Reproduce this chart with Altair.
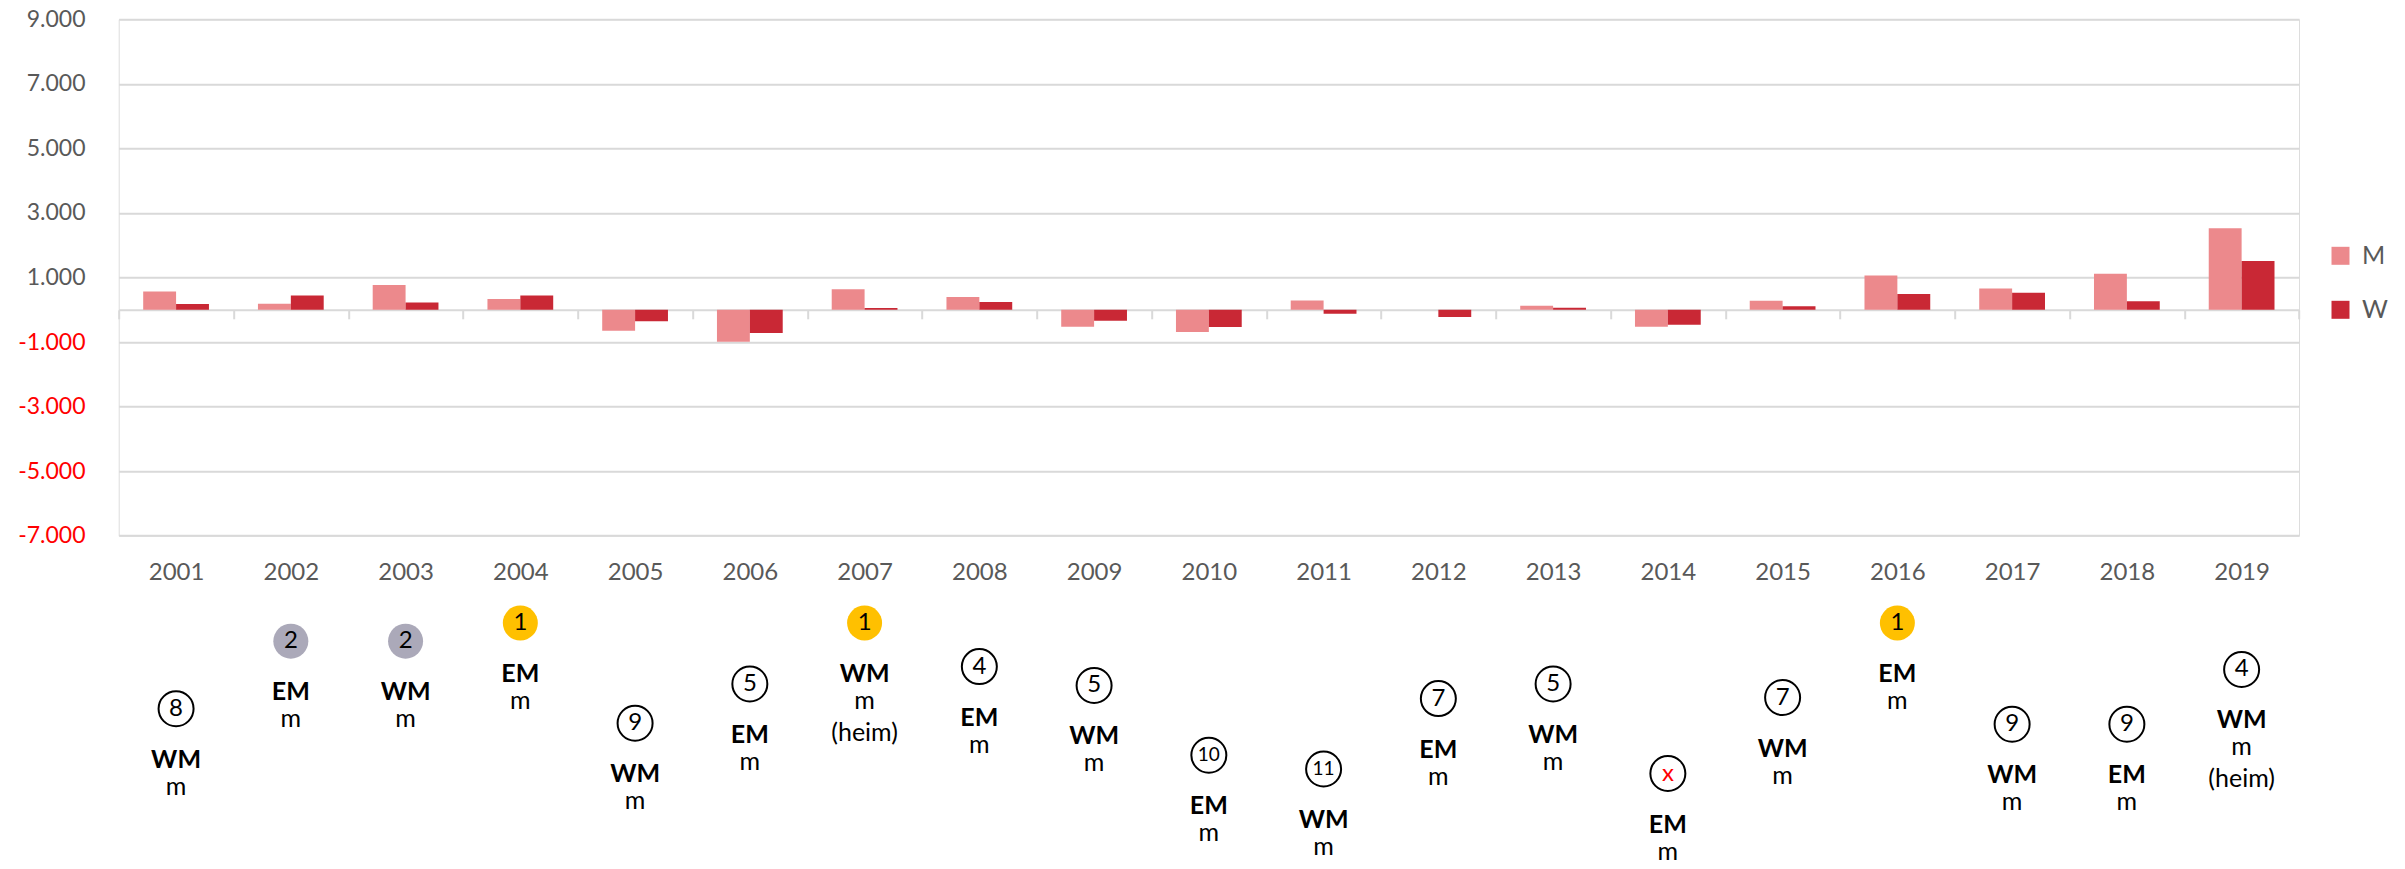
import altair as alt
import pandas as pd

# ---- data ----
jahre = [str(y) for y in range(2001, 2020)]
maenner = [570, 186, 764, 330, -647, -988, 634, 397, -523, -690, 289, 0, 124, -526, 278, 1062, 658, 1117, 2525]
frauen = [176, 444, 227, 444, -357, -719, 56, 242, -337, -536, -124, -227, 62, -464, 113, 492, 528, 265, 1512]
y_ticks = [-7000, -5000, -3000, -1000, 1000, 3000, 5000, 7000, 9000]

platz = ["8", "2", "2", "1", "9", "5", "1", "4", "5", "10", "11", "7", "5", "x", "7", "1", "9", "9", "4"]
turnier = ["WM", "EM", "WM", "EM", "WM", "EM", "WM", "EM", "WM", "EM", "WM", "EM", "WM", "EM", "WM", "EM", "WM", "EM", "WM"]
team = ["m"] * 19
heim = ["", "", "", "", "", "", "(heim)", "", "", "", "", "", "", "", "", "", "", "", "(heim)"]
stufe = [5.9, 1.25, 1.25, 0, 6.9, 4.2, 0, 3.0, 4.3, 9.1, 10.05, 5.2, 4.2, 10.36, 5.13, 0, 6.97, 6.97, 3.2]

# ---- tables ----
bars = pd.DataFrame({
    "jahr": jahre * 2,
    "serie": ["M"] * len(jahre) + ["W"] * len(jahre),
    "wert": maenner + frauen,
})

ann = pd.DataFrame({
    "jahr": jahre, "platz": platz, "turnier": turnier, "team": team,
    "heim": heim, "stufe": stufe,
})
ann["medaille"] = ann["platz"].map({"1": "Gold", "2": "Silber"}).fillna("keine")

FONT = "Lato"
GRID = "#D9D9D9"

x_enc = alt.X(
    "jahr:N",
    sort=jahre,
    scale=alt.Scale(paddingInner=0, paddingOuter=0),
    axis=alt.Axis(
        title=None, orient="bottom", offset=-225.9, grid=False,
        domainColor=GRID, domainWidth=2,
        tickColor=GRID, tickWidth=2, tickSize=9, tickBand="extent",
        labelPadding=253.2, labelBaseline="middle", labelAngle=0,
        labelFont=FONT, labelFontSize=24, labelColor="#595959",
    ),
)

bar_layer = alt.Chart(bars).mark_bar().encode(
    x=x_enc,
    xOffset=alt.XOffset("serie:N", sort=["M", "W"],
                        scale=alt.Scale(paddingInner=0, paddingOuter=0.745)),
    y=alt.Y(
        "wert:Q",
        scale=alt.Scale(domain=[-7000, 9000], nice=False, zero=False),
        axis=alt.Axis(
            title=None, values=y_ticks, grid=True, gridColor=GRID, gridWidth=2,
            domain=False, ticks=False, labelPadding=33.7,
            labelFont=FONT, labelFontSize=23,
            labelColor=alt.condition("datum.value < 0", alt.value("#FF0000"), alt.value("#595959")),
            labelExpr="(datum.value < 0 ? '-' : '') + replace(format(abs(datum.value), ','), ',', '.')",
        ),
    ),
    color=alt.Color(
        "serie:N",
        scale=alt.Scale(domain=["M", "W"], range=["#EC898C", "#C92835"]),
        legend=alt.Legend(
            title=None, orient="none", legendX=2209.3, legendY=224,
            symbolType="square", symbolSize=324, symbolStrokeWidth=0,
            labelFont=FONT, labelFontSize=25, labelColor="#595959",
            labelOffset=9, rowPadding=28, padding=0,
        ),
    ),
)

y_ann = alt.Y("stufe:Q", scale=alt.Scale(domain=[0, 10], range=[603.7, 749], nice=False, zero=False), axis=None)
x_ann = alt.X("jahr:N", sort=jahre)

base = alt.Chart(ann)

medal_circles = base.transform_filter("datum.medaille != 'keine'").mark_point(
    shape="circle", filled=True, size=1225, opacity=1, strokeWidth=0
).encode(
    x=x_ann, y=y_ann,
    fill=alt.Fill("medaille:N", scale=alt.Scale(domain=["Gold", "Silber"], range=["#FFC000", "#ABA9B9"]), legend=None),
)

plain_circles = base.transform_filter("datum.medaille == 'keine'").mark_point(
    shape="circle", filled=False, size=1225, stroke="black", strokeWidth=2, opacity=1
).encode(x=x_ann, y=y_ann)

rank_text = base.mark_text(font=FONT, baseline="middle", align="center").encode(
    x=x_ann, y=y_ann, text="platz:N",
    color=alt.condition("datum.platz == 'x'", alt.value("#FF0000"), alt.value("black")),
    size=alt.condition("length(datum.platz) > 1", alt.value(19), alt.value(24)),
)

event_text = base.mark_text(font=FONT, fontSize=25, fontWeight="bold", color="black",
                            baseline="middle", align="center", dy=51).encode(
    x=x_ann, y=y_ann, text="turnier:N")

team_text = base.mark_text(font=FONT, fontSize=25, color="black",
                           baseline="middle", align="center", dy=78).encode(
    x=x_ann, y=y_ann, text="team:N")

heim_text = base.transform_filter("datum.heim != ''").mark_text(
    font=FONT, fontSize=25, color="black", baseline="middle", align="center", dy=110
).encode(x=x_ann, y=y_ann, text="heim:N")

chart = alt.layer(
    bar_layer, medal_circles, plain_circles, rank_text, event_text, team_text, heim_text
).resolve_scale(y="independent").properties(
    width=2180.3, height=516.4,
    autosize=alt.AutoSizeParams(type="none"),
    padding={"left": 110.7, "top": 11.3, "right": 98, "bottom": 325.3},
).configure_view(stroke=None).configure(background="white")

chart.save("out.html", embed_options={"renderer": "svg", "actions": False})
